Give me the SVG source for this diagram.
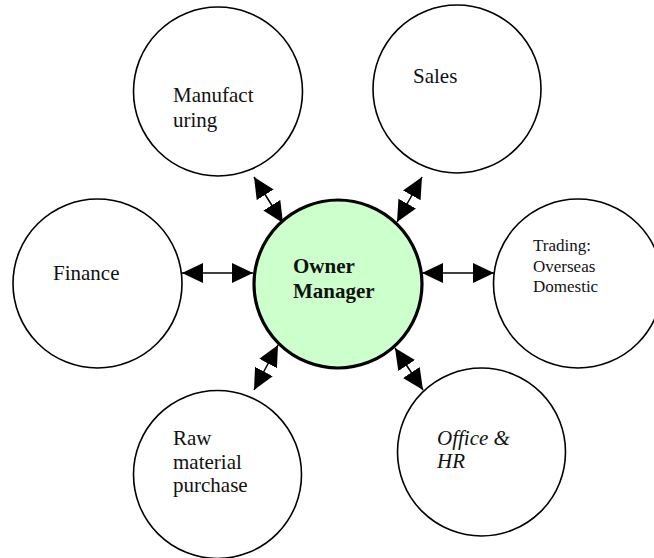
<svg xmlns="http://www.w3.org/2000/svg" width="654" height="558" viewBox="0 0 654 558">
  <defs>
    <style>
      .node { fill: #ffffff; stroke: #000000; stroke-width: 1.6; }
      .main { fill: #ccffcc; stroke: #000000; stroke-width: 3.2; }
      .lbl { font-family: "Liberation Serif", "Times New Roman", serif; font-size: 21px; fill: #111111; }
      .small { font-size: 17px; }
      .bold { font-weight: bold; }
      .ital { font-style: italic; }
      .conn { stroke: #000000; stroke-width: 1.5; fill: none; marker-start: url(#ah); marker-end: url(#ah); }
    </style>
    <marker id="ah" markerUnits="userSpaceOnUse" markerWidth="22" markerHeight="21" refX="21" refY="10" orient="auto-start-reverse" viewBox="0 0 22 21">
      <path d="M0,0 L21,10 L0,20 Z" fill="#000000"/>
    </marker>
  </defs>

  <g id="connectors">
    <line class="conn" x1="253" y1="273" x2="182" y2="273"/>
    <line class="conn" x1="422" y1="273" x2="494" y2="273"/>
    <line class="conn" x1="283" y1="223" x2="254" y2="177"/>
    <line class="conn" x1="397" y1="222" x2="422" y2="177"/>
    <line class="conn" x1="278" y1="345" x2="254" y2="390"/>
    <line class="conn" x1="395" y1="348" x2="423" y2="390"/>
  </g>

  <g id="manufacturing">
    <circle class="node" cx="218" cy="91.5" r="84.5"/>
    <text class="lbl" x="173" y="102">Manufact</text>
    <text class="lbl" x="173" y="127">uring</text>
  </g>

  <g id="sales">
    <circle class="node" cx="457" cy="89" r="84"/>
    <text class="lbl" x="413" y="83">Sales</text>
  </g>

  <g id="finance">
    <circle class="node" cx="97.5" cy="283.5" r="84.5"/>
    <text class="lbl" x="53" y="280">Finance</text>
  </g>

  <g id="trading">
    <circle class="node" cx="578" cy="283.5" r="84.5"/>
    <text class="lbl small" x="533" y="251">Trading:</text>
    <text class="lbl small" x="533" y="271.5">Overseas</text>
    <text class="lbl small" x="533" y="292">Domestic</text>
  </g>

  <g id="owner-manager">
    <circle class="main" cx="338" cy="284" r="84"/>
    <text class="lbl bold" x="293" y="273">Owner</text>
    <text class="lbl bold" x="293" y="298">Manager</text>
  </g>

  <g id="raw-material">
    <circle class="node" cx="217.5" cy="474.5" r="84"/>
    <text class="lbl" x="173" y="445">Raw</text>
    <text class="lbl" x="173" y="469">material</text>
    <text class="lbl" x="173" y="492">purchase</text>
  </g>

  <g id="office-hr">
    <circle class="node" cx="481.5" cy="452" r="84"/>
    <text class="lbl ital" x="437" y="445">Office &amp;</text>
    <text class="lbl ital" x="437" y="468">HR</text>
  </g>
</svg>
